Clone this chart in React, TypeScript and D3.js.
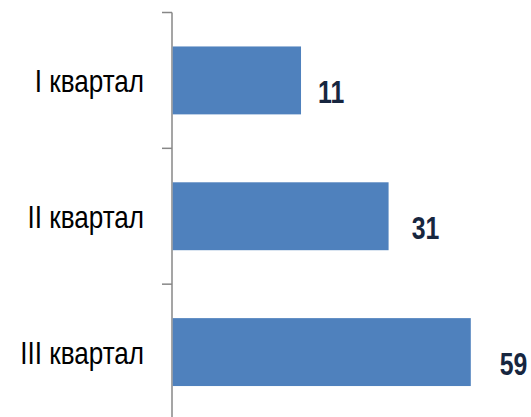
import React from "react";
import * as d3 from "d3";

const categories = ["I квартал", "II квартал", "III квартал"];
const values = [11, 31, 59];

const W = 531;
const H = 417;

export default function App() {
  const x0 = 172;
  const x = d3.scaleSqrt().domain([0, 64]).range([x0, x0 + 38.9 * 8]);
  const y = d3.scaleBand<string>().domain(categories).range([12.5, 420]).paddingInner(0.5).paddingOuter(0.25);
  const step = y.step();
  const ticks = d3.range(categories.length + 1).map((i) => 12.5 + i * step);
  const bh = y.bandwidth();

  return (
    <svg width={W} height={H} style={{ position: "absolute", left: 0, top: 0, background: "#fff" }}>
      <line x1={x0} x2={x0} y1={12.5} y2={H} stroke="#878787" strokeWidth={1.5} />
      {ticks.map((t, i) => (
        <line key={i} x1={x0 - 10} x2={x0} y1={t} y2={t} stroke="#878787" strokeWidth={1.5} />
      ))}
      {categories.map((c, i) => {
        const yc = (y(c) as number) + bh / 2;
        const len = x(values[i]) - x0;
        return (
          <g key={c}>
            <rect x={x0 + 0.75} y={y(c)} width={len - 0.75} height={bh} fill="#4F81BD" />
            <text
              transform={`translate(144, ${yc + 11.5}) scale(0.815, 1)`}
              textAnchor="end"
              fontFamily="'Liberation Sans', Arial, sans-serif"
              fontSize={32}
              fill="#000"
            >
              {c}
            </text>
            <text
              transform={`translate(${x0 + len * 1.07 + 8}, ${yc + 23}) scale(0.8, 1)`}
              fontFamily="'Liberation Sans', Arial, sans-serif"
              fontWeight="bold"
              fontSize={31}
              fill="#17263F"
            >
              {values[i]}
            </text>
          </g>
        );
      })}
    </svg>
  );
}
